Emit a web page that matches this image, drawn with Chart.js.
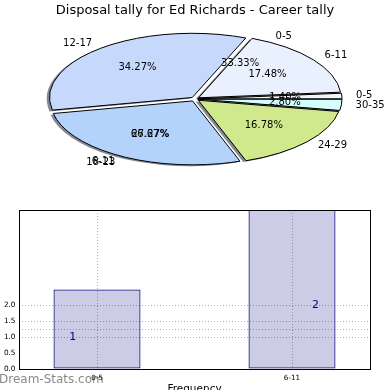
<!DOCTYPE html>
<html>
<head>
<meta charset="utf-8">
<script src="https://cdn.jsdelivr.net/npm/chart.js@4.4.1/dist/chart.umd.min.js"></script>
<style>
  html, body { margin: 0; padding: 0; background: #fff; width: 390px; height: 390px; overflow: hidden; }
  #wrap { position: relative; width: 390px; height: 390px; }
  #pie { position: absolute; left: 0; top: 0; }
  #bar { position: absolute; left: 0; top: 195px; }
</style>
</head>
<body>
<div id="wrap">
  <canvas id="pie" width="390" height="200"></canvas>
  <canvas id="bar" width="390" height="205"></canvas>
</div>
<script>
// ===== pie data =====
const pieLabels = ['0-5', '6-11', '12-17', '18-23', '24-29', '30-35'];
const pieCounts = [2, 25, 49, 39, 24, 4];
const pieColors = ['#f3f5f9', '#e9f0fe', '#c6d9fc', '#b4d3fb', '#d0e98c', '#d4fefe'];
// second (overlaid) tally, only its labels show
const overlayLabels = ['0-5', '6-11'];
const overlayCounts = [1, 2];

// ===== bar data =====
const barCats = ['0-5', '6-11'];
const barPos = [0, 1];
const barValues = [2.5, 5.6];
const barText = ['1', '2'];
const barTextX = [-0.125, 1.12];
const barTextY = [1, 2];
const yTickValues = [0, 0.5, 1, 1.25, 1.5, 2];
const yTickLabels = ['0.0', '0.5', '1.0', '', '1.5', '2.0'];
const yGridValues = [1, 1.25, 1.5, 2];

const FONT = 'DejaVu Sans';

// ===== squashed pie helpers =====
const EX = 195, EY = 99, KY = 0.45, EXPLODE = 5;
let baseT = null;
function toEllipse(ctx, arc, dx, dy) {
  ctx.setTransform(baseT);
  ctx.translate(EX + dx, EY + dy);
  ctx.scale(1, -KY);
  ctx.translate(-arc.x, -arc.y);
}
function wedgePath(ctx, arc) {
  const o = (arc.options.offset || 0) / 4;
  const mid = (arc.startAngle + arc.endAngle) / 2;
  const fix = 1 - Math.sin(Math.min(Math.PI, arc.circumference));
  const r = arc.outerRadius + o * fix;
  const cx = arc.x + Math.cos(mid) * o, cy = arc.y + Math.sin(mid) * o;
  ctx.beginPath();
  ctx.moveTo(cx, cy);
  ctx.arc(cx, cy, r, arc.startAngle, arc.endAngle);
  ctx.closePath();
}
function drawPieLabels(ctx, labels, counts, R) {
  const total = counts.reduce((s, v) => s + v, 0);
  let acc = 0;
  ctx.font = '10px "' + FONT + '"';
  ctx.fillStyle = '#000';
  ctx.textBaseline = 'middle';
  labels.forEach((lab, i) => {
    const a = (acc + counts[i] / 2) / total * 2 * Math.PI;
    acc += counts[i];
    const c = Math.cos(a), s = Math.sin(a);
    const at = d => [EX + c * (EXPLODE + d * R), EY - KY * s * (EXPLODE + d * R)];
    let p = at(1.1);
    ctx.textAlign = c >= 0 ? 'left' : 'right';
    ctx.fillText(lab, p[0], p[1]);
    p = at(0.6);
    ctx.textAlign = 'center';
    ctx.fillText((counts[i] / total * 100).toFixed(2) + '%', p[0], p[1]);
  });
}

const ellipsePie = {
  id: 'ellipsePie',
  beforeDatasetsDraw(chart) {
    const ctx = chart.ctx, arcs = chart.getDatasetMeta(0).data;
    ctx.save();
    baseT = ctx.getTransform();
    // shadows under everything
    ctx.fillStyle = 'rgba(30,40,60,0.55)';
    arcs.forEach(a => { toEllipse(ctx, a, -2.8, 1.3); wedgePath(ctx, a); ctx.fill(); });
    toEllipse(ctx, arcs[0], 0, 0);
  },
  afterDatasetsDraw(chart) {
    const ctx = chart.ctx, arcs = chart.getDatasetMeta(0).data;
    ctx.strokeStyle = '#000';
    ctx.lineWidth = 1;
    arcs.forEach(a => {
      toEllipse(ctx, a, 0, 0);
      wedgePath(ctx, a);
      ctx.setTransform(baseT);
      ctx.stroke();
    });
    ctx.setTransform(baseT);
    const R = arcs[0].outerRadius;
    drawPieLabels(ctx, pieLabels, pieCounts, R);
    drawPieLabels(ctx, overlayLabels, overlayCounts, R);
    ctx.restore();
  }
};

new Chart(document.getElementById('pie'), {
  type: 'pie',
  data: {
    labels: pieLabels,
    datasets: [{
      data: pieCounts,
      backgroundColor: pieColors,
      borderWidth: 0,
      clip: false,
      offset: c => {
        const d = c.dataset.data;
        const tot = d.reduce((s, v) => s + v, 0);
        const circ = d[c.dataIndex] / tot * 2 * Math.PI;
        return 4 * EXPLODE / (2 - Math.sin(Math.min(Math.PI, circ)));
      }
    }]
  },
  options: {
    responsive: false,
    animation: false,
    rotation: 90,
    radius: 142,
    plugins: {
      legend: { display: false },
      tooltip: { enabled: false },
      title: {
        display: true,
        text: 'Disposal tally for Ed Richards - Career tally',
        color: '#000',
        font: { family: FONT, size: 13, weight: 'normal' },
        padding: { top: 3, bottom: 0 }
      }
    }
  },
  plugins: [ellipsePie]
});

// ===== bar chart =====
const barExtras = {
  id: 'barExtras',
  beforeDraw(chart) {
    const ctx = chart.ctx;
    ctx.save();
    ctx.font = '12px "' + FONT + '"';
    ctx.fillStyle = '#8a8a8a';
    ctx.textAlign = 'left';
    ctx.textBaseline = 'middle';
    ctx.fillText('Dream-Stats.com', -1, 185);
    ctx.restore();
  },
  afterDatasetsDraw(chart) {
    const { ctx, chartArea: a, scales: { x, y } } = chart;
    ctx.save();
    ctx.font = '11px "' + FONT + '"';
    ctx.fillStyle = '#000080';
    ctx.textAlign = 'center';
    ctx.textBaseline = 'middle';
    barText.forEach((t, i) => ctx.fillText(t, x.getPixelForValue(barTextX[i]), y.getPixelForValue(barTextY[i])));
    ctx.strokeStyle = '#000';
    ctx.lineWidth = 1;
    ctx.strokeRect(a.left + 0.5, a.top + 0.5, a.right - a.left, a.bottom - a.top);
    ctx.restore();
  }
};

new Chart(document.getElementById('bar'), {
  type: 'bar',
  data: {
    datasets: [{
      data: barPos.map((x, i) => ({ x: x, y: barValues[i] })),
      backgroundColor: 'rgba(0,0,128,0.2)',
      borderColor: '#000080',
      borderWidth: 1,
      borderSkipped: false,
      barPercentage: 0.446,
      categoryPercentage: 1
    }]
  },
  options: {
    responsive: false,
    animation: false,
    layout: { padding: { left: 0, right: 20, top: 15, bottom: 0 } },
    plugins: { legend: { display: false }, tooltip: { enabled: false } },
    scales: {
      x: {
        type: 'linear', min: -0.4, max: 1.4, offset: false,
        afterBuildTicks: s => { s.ticks = barPos.map(v => ({ value: v })); },
        afterFit: s => { s.height = 31; },
        ticks: {
          callback: v => barCats[barPos.indexOf(v)],
          font: { family: FONT, size: 7.2 }, color: '#000',
          padding: 5, maxRotation: 0, autoSkip: false
        },
        grid: { color: '#b0b0b0', drawTicks: false, offset: false },
        border: { display: false, dash: [1, 2] },
        title: {
          display: true, text: 'Frequency', color: '#000',
          font: { family: FONT, size: 10.5 },
          padding: { top: 0, bottom: 4 }
        }
      },
      y: {
        min: 0, max: 5,
        afterBuildTicks: s => { s.ticks = yTickValues.map(v => ({ value: v })); },
        afterFit: s => { s.width = 19; },
        ticks: {
          callback: (v, i) => yTickLabels[i],
          font: { family: FONT, size: 7.3 }, color: '#000', padding: 3.5
        },
        grid: {
          color: c => yGridValues.includes(c.tick && c.tick.value) ? '#b0b0b0' : 'rgba(0,0,0,0)',
          drawTicks: false
        },
        border: { display: false, dash: [1, 2] }
      }
    }
  },
  plugins: [barExtras]
});
</script>
</body>
</html>
